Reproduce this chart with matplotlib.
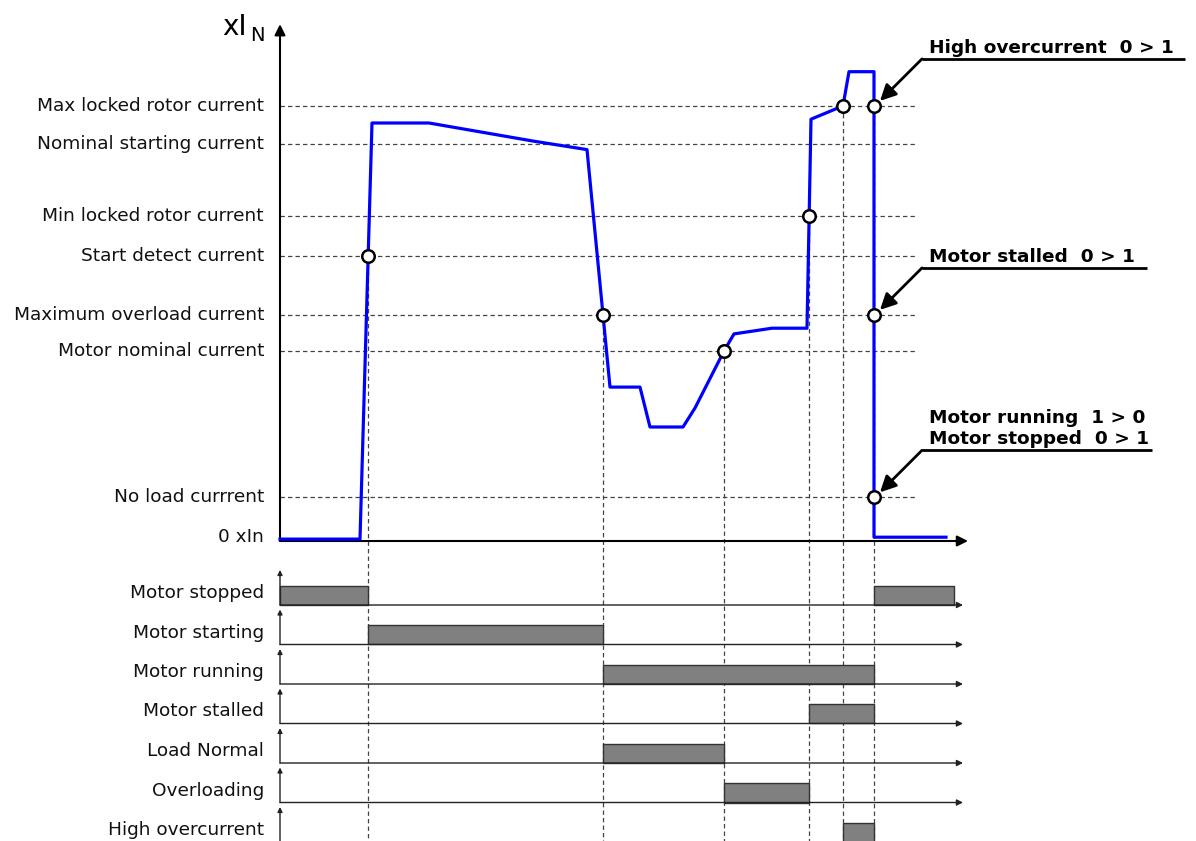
import numpy as np
import matplotlib
matplotlib.use("Agg")
import matplotlib.pyplot as plt

# motor current profile (time in ms-like units, current in xIn)
time = [0, 80, 92, 149, 253, 307, 330, 360, 370, 403, 415, 444, 454, 492, 527, 531, 563, 569, 594, 594, 666]
current = [0.01, 0.01, 2.2, 2.2, 2.105, 2.06, 0.81, 0.81, 0.6, 0.6, 0.70, 1.0, 1.09, 1.12, 1.12, 2.22, 2.29,
           2.47, 2.47, 0.02, 0.02]

level_names = ["Max locked rotor current", "Nominal starting current", "Min locked rotor current",
               "Start detect current", "Maximum overload current", "Motor nominal current",
               "No load currrent", "0 xIn"]
level_values = [2.29, 2.09, 1.71, 1.5, 1.19, 1.0, 0.23, 0.0]

# threshold crossings (time, level)
cross_t = [88.2, 323, 444, 529, 563, 594, 594, 594]
cross_i = [1.5, 1.19, 1.0, 1.71, 2.29, 2.29, 1.19, 0.23]

# state signals
lane_names = ["Motor stopped", "Motor starting", "Motor running", "Motor stalled",
              "Load Normal", "Overloading", "High overcurrent"]
lane_on = [[(0, 88), (594, 674)], [(88, 323)], [(323, 594)], [(529, 594)],
           [(323, 444)], [(444, 529)], [(563, 594)]]

# event annotations: text lines, underline end, arrow target
notes = [
    (["High overcurrent  0 > 1"], 905, (594, 2.29)),
    (["Motor stalled  0 > 1"], 867, (594, 1.19)),
    (["Motor running  1 > 0", "Motor stopped  0 > 1"], 872, (594, 0.23)),
]

px = 1 / 190  # one pixel in current units
blue = "#0000ff"
dash = (0, (3.5, 2.5))

fig = plt.figure(figsize=(11.96, 8.41), dpi=100)
ax = fig.add_axes([0, 0, 1, 1])
ax.set_xlim(-280, 916)
ax.set_ylim(-300 * px, 541 * px)
ax.axis("off")

# level guides and labels
for name, v in zip(level_names, level_values):
    if v > 0:
        ax.plot([0, 637], [v, v], color="#444444", lw=0.9, ls=dash)
    ax.text(-16, v + (4 * px if v == 0 else 0), name, ha="right", va="center", fontsize=13.3, color="#111111")

# vertical event guides
for t, v in zip(cross_t[:6], cross_i[:6]):
    ax.plot([t, t], [v, -300 * px], color="#444444", lw=0.9, ls=dash, zorder=1)

# main axes arrows
ax.annotate("", xy=(0, 2.72), xytext=(0, 0),
            arrowprops=dict(arrowstyle="-|>", lw=1.5, color="black", mutation_scale=16, shrinkA=0, shrinkB=0))
ax.annotate("", xy=(688, 0), xytext=(0, 0),
            arrowprops=dict(arrowstyle="-|>", lw=1.5, color="black", mutation_scale=16, shrinkA=0, shrinkB=0))
ax.text(-58, 2.663, "xI", fontsize=20, ha="left", va="baseline")
ax.text(-30, 2.632, "N", fontsize=14, ha="left", va="baseline")

# current curve and crossing markers
ax.plot(time, current, color=blue, lw=2.3, zorder=3)
ax.plot(cross_t, cross_i, "o", ms=9, mfc="white", mec="black", mew=1.8, zorder=4)

# annotations
for lines, x_end, tip in notes:
    under_y = tip[1] + 47 * px
    ax.plot([642, x_end], [under_y, under_y], color="black", lw=2, solid_capstyle="butt")
    ax.annotate("", xy=(tip[0] + 6, tip[1] + 5 * px), xytext=(642, under_y),
                arrowprops=dict(arrowstyle="-|>", lw=2, color="black", mutation_scale=24,
                                shrinkA=0, shrinkB=0))
    for k, line in enumerate(lines[::-1]):
        ax.text(649, under_y + 6 * px + k * 21 * px, line, fontsize=13.3, fontweight="bold",
                ha="left", va="baseline")

# state lanes
box_h = 19 * px
for k, (name, spans) in enumerate(zip(lane_names, lane_on)):
    base = -(64 + 39.5 * k) * px
    ax.annotate("", xy=(683, base), xytext=(0, base),
                arrowprops=dict(arrowstyle="-|>", lw=1, color="#222222", mutation_scale=9,
                                shrinkA=0, shrinkB=0))
    ax.annotate("", xy=(0, base + 35 * px), xytext=(0, base),
                arrowprops=dict(arrowstyle="-|>", lw=1, color="#222222", mutation_scale=7,
                                shrinkA=0, shrinkB=0))
    ax.broken_barh([(a, b - a) for a, b in spans], (base, box_h),
                   facecolors="#808080", edgecolors="#333333", lw=1, zorder=2)
    ax.text(-16, base + 12 * px, name, ha="right", va="center", fontsize=13.3, color="#111111")

fig.savefig("out.png", dpi=100)
